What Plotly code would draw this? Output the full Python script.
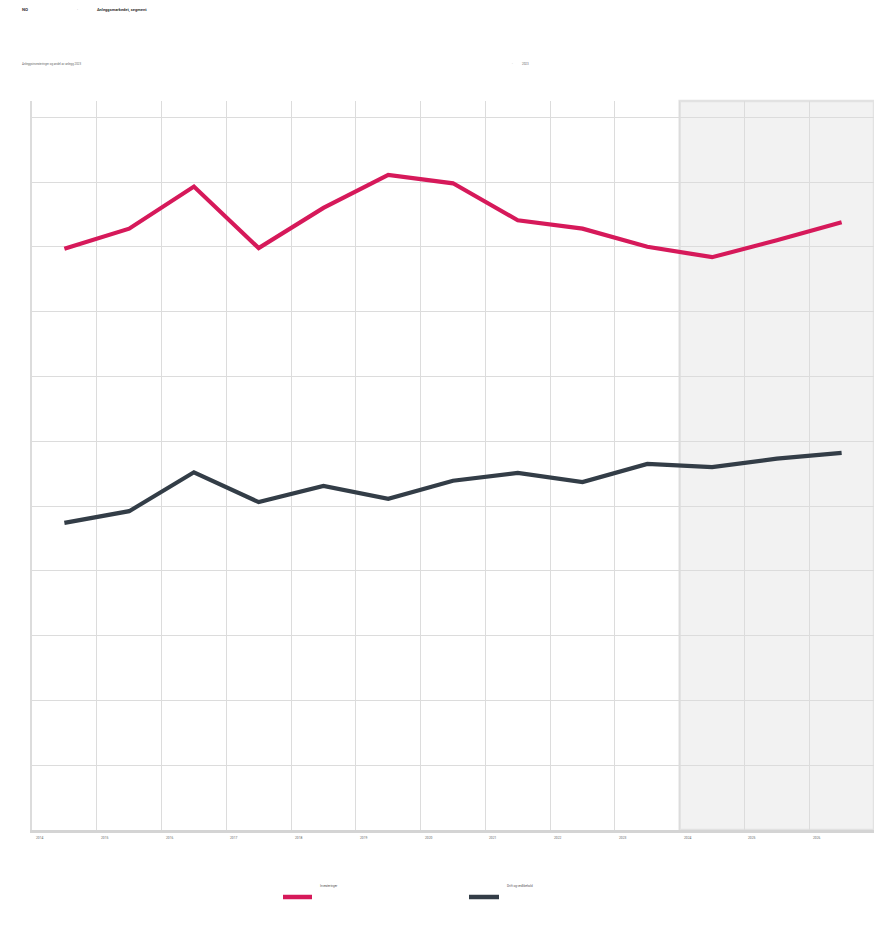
import plotly.graph_objects as go

# Years on the category axis; the last three are forecast years
years = ["2014", "2015", "2016", "2017", "2018", "2019", "2020",
         "2021", "2022", "2023", "2024", "2025", "2026"]
forecast_years = ["2024", "2025", "2026"]

# Series values
investeringer = [89.7, 92.8, 99.3, 89.8, 96.0, 101.1, 99.8,
                 94.1, 92.8, 90.0, 88.4, 91.0, 93.8]
drift_vedlikehold = [47.4, 49.2, 55.2, 50.6, 53.1, 51.1, 53.9,
                     55.1, 53.7, 56.5, 56.0, 57.3, 58.2]

series_names = ["Investeringer", "Drift og vedlikehold"]
series_colors = ["#d6195a", "#333d47"]

title_left = "NO"
title_right = "Anleggsmarkedet, segment"
subtitle_left = "Anleggsinvesteringer og andel av anlegg 2023"
subtitle_right = "2023"

W, H = 887, 926
ML, MR, MT, MB = 32, 13, 101, 96
PW, PH = W - ML - MR, H - MT - MB


def px_x(p):
    return (p - ML) / PW


def px_y(p):
    return (H - MB - p) / PH


xs = list(range(len(years)))
fig = go.Figure()

for name, vals, col in zip(series_names, [investeringer, drift_vedlikehold], series_colors):
    fig.add_trace(go.Scatter(
        x=xs, y=vals, mode="lines", name=name,
        line=dict(color=col, width=4.2),
        hoverinfo="skip", showlegend=False,
    ))

# Forecast band
f0 = years.index(forecast_years[0]) - 0.5
f1 = years.index(forecast_years[-1]) + 0.5
fig.add_shape(type="rect", xref="x", yref="paper", x0=f0, x1=f1, y0=0, y1=1,
              fillcolor="#f2f2f2", line=dict(color="#e2e2e2", width=2.5), layer="below")

# Year labels sit near the left edge of each band
for i, yr in enumerate(years):
    fig.add_annotation(x=i - 0.377, y=px_y(838), xref="x", yref="paper",
                       text=yr, showarrow=False, xanchor="center", yanchor="middle",
                       font=dict(size=3.3, color="#666666"))

# Header texts
fig.add_annotation(x=px_x(20), y=px_y(10), xref="paper", yref="paper", text="<b>" + title_left + "</b>",
                   showarrow=False, xanchor="left", yanchor="middle", font=dict(size=4.3, color="#333333"))
fig.add_annotation(x=px_x(77), y=px_y(10), xref="paper", yref="paper", text="·",
                   showarrow=False, xanchor="center", yanchor="middle", font=dict(size=4, color="#888888"))
fig.add_annotation(x=px_x(95), y=px_y(10), xref="paper", yref="paper", text="<b>" + title_right + "</b>",
                   showarrow=False, xanchor="left", yanchor="middle", font=dict(size=4.0, color="#333333"))
fig.add_annotation(x=px_x(20), y=px_y(64), xref="paper", yref="paper", text=subtitle_left,
                   showarrow=False, xanchor="left", yanchor="middle", font=dict(size=2.9, color="#666666"))
fig.add_annotation(x=px_x(512), y=px_y(64), xref="paper", yref="paper", text="-",
                   showarrow=False, xanchor="center", yanchor="middle", font=dict(size=3, color="#999999"))
fig.add_annotation(x=px_x(520), y=px_y(64), xref="paper", yref="paper", text=subtitle_right,
                   showarrow=False, xanchor="left", yanchor="middle", font=dict(size=3.0, color="#666666"))

# Legend: label above a short colour bar
legend_pos = [(283, 312, 318), (469, 499, 505)]
for (x0, x1, tx), name, col in zip(legend_pos, series_names, series_colors):
    fig.add_shape(type="line", xref="paper", yref="paper", x0=px_x(x0), x1=px_x(x1),
                  y0=px_y(897), y1=px_y(897), line=dict(color=col, width=4.5))
    fig.add_annotation(x=px_x(tx), y=px_y(886), xref="paper", yref="paper", text=name,
                       showarrow=False, xanchor="left", yanchor="middle",
                       font=dict(size=3.0, color="#555555"))

fig.update_layout(
    width=W, height=H,
    margin=dict(l=ML, r=MR, t=MT, b=MB, pad=0),
    paper_bgcolor="white", plot_bgcolor="white",
    font=dict(family="Roboto, Arial, sans-serif"),
    xaxis=dict(range=[-0.5, len(years) - 0.5],
               tickvals=[i - 0.5 for i in range(len(years) + 1)],
               showticklabels=False, ticks="",
               showgrid=True, gridcolor="#dcdcdc", gridwidth=1.3,
               zeroline=False, showline=True, linecolor="#d4d4d4", linewidth=3,
               fixedrange=True),
    yaxis=dict(range=[0, 112.5], tickvals=list(range(0, 111, 10)),
               showticklabels=False, ticks="",
               showgrid=True, gridcolor="#dcdcdc", gridwidth=1.3,
               zeroline=False, showline=True, linecolor="#dcdcdc", linewidth=1.5,
               fixedrange=True),
)

fig.write_html("out.html")
